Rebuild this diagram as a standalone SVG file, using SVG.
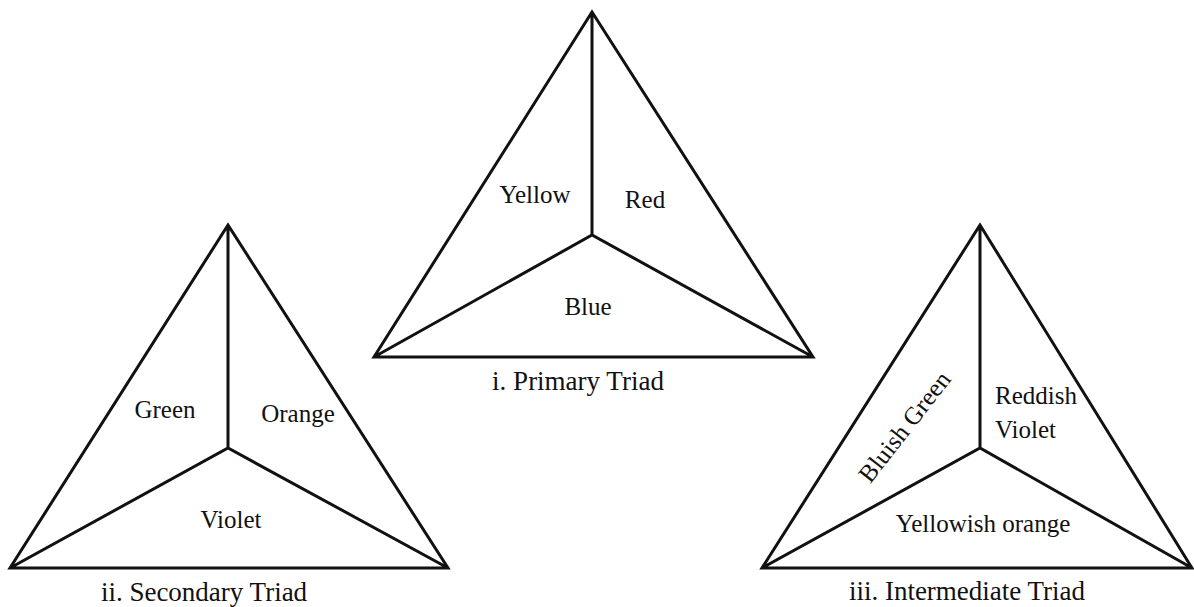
<svg xmlns="http://www.w3.org/2000/svg" width="1194" height="607" viewBox="0 0 1194 607">
<style>
.edge{fill:none;stroke:#111;stroke-width:3;stroke-linejoin:miter;stroke-linecap:round}
text{font-family:'Liberation Serif','DejaVu Serif',serif;fill:#111}
.lbl{font-size:25px}
.cap{font-size:27px;text-anchor:middle}
.m{text-anchor:middle}
</style>
<rect width="1194" height="607" fill="#fff"/>
<g id="connectors">
  <path class="edge" d="M592,12 L374,357 L813,357 Z M592,12 L592,235 M374,357 L592,235 L813,357"/>
  <path class="edge" d="M228,225 L10,568 L448,568 Z M228,225 L228,448 M10,568 L228,448 L448,568"/>
  <path class="edge" d="M980,225 L762,568 L1192,568 Z M980,225 L980,448 M762,568 L980,448 L1192,568"/>
</g>
<g id="primary-triad">
  <text class="lbl m" x="535" y="203">Yellow</text>
  <text class="lbl m" x="645" y="208">Red</text>
  <text class="lbl m" x="588" y="315">Blue</text>
  <text class="cap" x="578" y="390">i. Primary Triad</text>
</g>
<g id="secondary-triad">
  <text class="lbl m" x="165" y="418">Green</text>
  <text class="lbl m" x="298" y="422">Orange</text>
  <text class="lbl m" x="231" y="528">Violet</text>
  <text class="cap" x="204" y="601">ii. Secondary Triad</text>
</g>
<g id="intermediate-triad">
  <text class="lbl" transform="translate(911,432) rotate(-52)" text-anchor="middle">Bluish Green</text>
  <text class="lbl" x="995" y="404">Reddish</text>
  <text class="lbl" x="995" y="438">Violet</text>
  <text class="lbl m" x="983" y="532">Yellowish orange</text>
  <text class="cap" x="967" y="600">iii. Intermediate Triad</text>
</g>
</svg>
